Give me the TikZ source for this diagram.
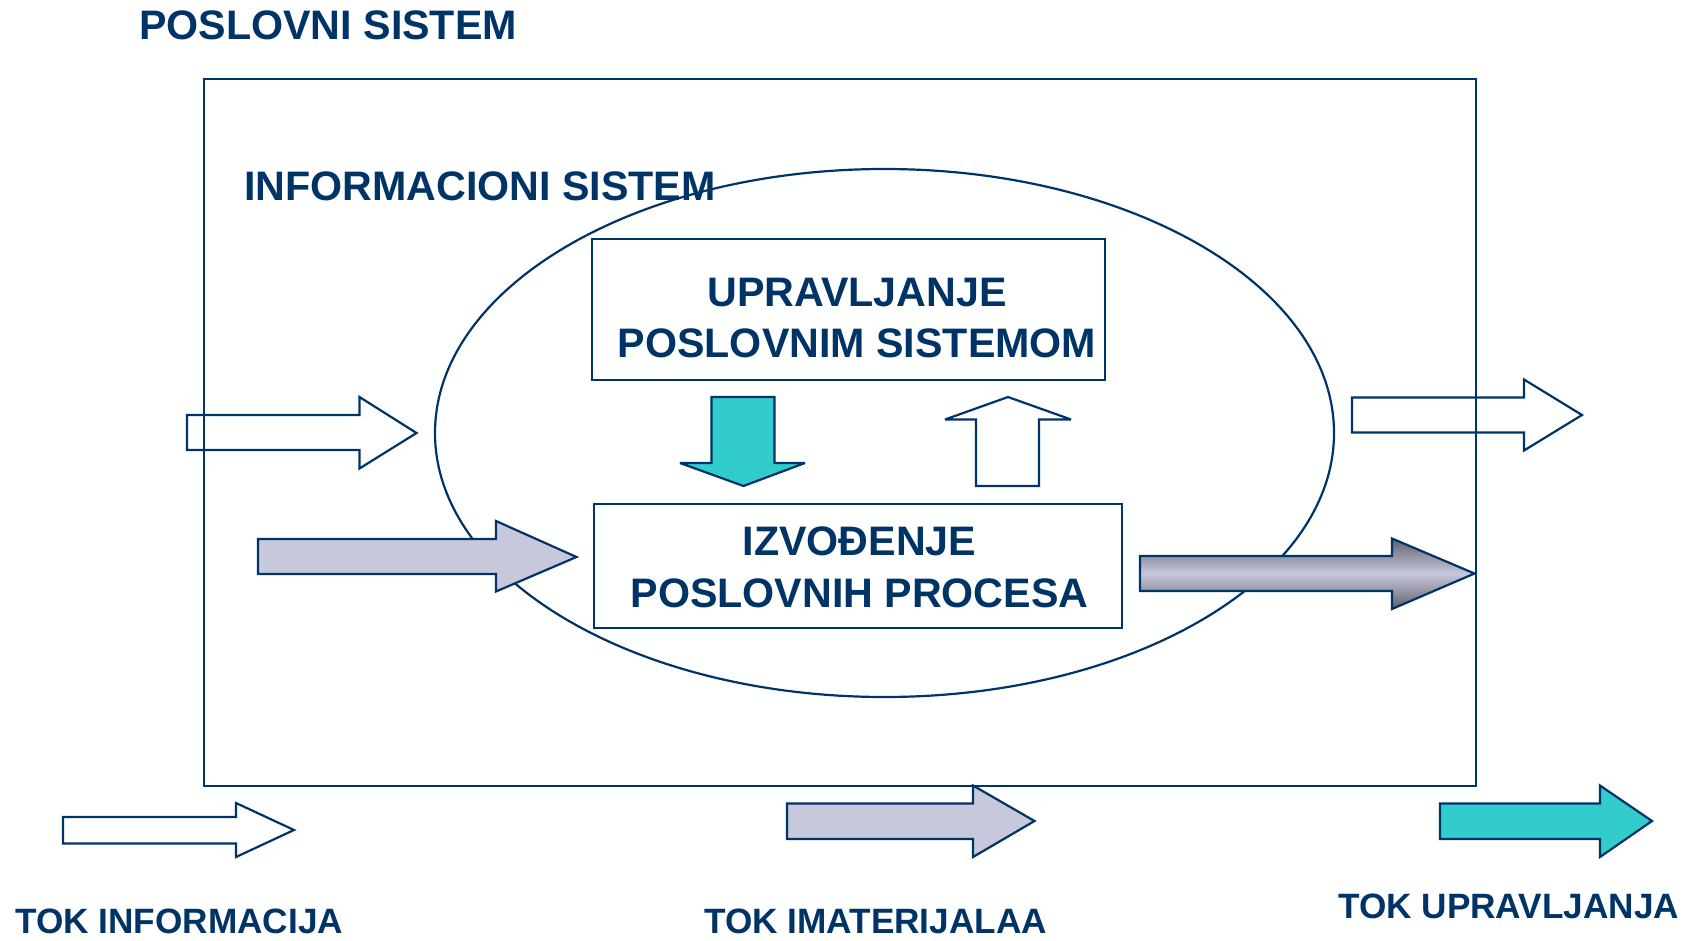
\documentclass[tikz,border=0pt]{standalone}
\usepackage{fontspec}
\setmainfont{Liberation Sans}
\usetikzlibrary{shapes.geometric}
\definecolor{navy}{RGB}{0,51,102}
\definecolor{teal}{RGB}{51,204,204}
\definecolor{lavender}{RGB}{200,200,220}
\definecolor{steel}{RGB}{96,96,108}
\begin{document}
\begin{tikzpicture}[x=1pt,y=-1pt,
  outline/.style={draw=navy,line width=2.2pt,line join=miter,miter limit=4},
  bigtext/.style={inner sep=0pt,text=navy,font=\fontsize{41.2}{51}\selectfont\bfseries},
  smalltext/.style={inner sep=0pt,text=navy,font=\fontsize{35.2}{42}\selectfont\bfseries},
  boxnode/.style={outline,inner sep=0pt,fill=white},
  infoarrow/.style={outline},
  matarrow/.style={outline,fill=lavender},
  ctrlarrow/.style={outline,fill=teal},
  gradarrow/.style={outline,top color=steel,bottom color=steel,middle color=lavender}]
\useasboundingbox (0,0) rectangle (1695,940);

% business system frame and the information system ellipse
\node[outline,inner sep=0pt,minimum width=1272pt,minimum height=707pt] (frame) at (840,432.5) {};
\node[outline,ellipse,inner sep=0pt,minimum width=899pt,minimum height=528pt] (is) at (884.5,433) {};

% titles
\node[bigtext,anchor=base west] (tposl) at (139,39) {POSLOVNI SISTEM};
\node[bigtext,anchor=base west] (tinfo) at (244,200.5) {INFORMACIONI SISTEM};

% management and process boxes
\node[boxnode,minimum width=513pt,minimum height=141pt] (upr) at (848.5,309.5) {};
\node[bigtext,anchor=base] (upr1) at (857,306.5) {UPRAVLJANJE};
\node[bigtext,anchor=base] (upr2) at (857,357.5) {POSLOVNIM SISTEMOM};

\node[boxnode,minimum width=528pt,minimum height=124pt] (izv) at (858,566) {};
\node[bigtext,anchor=base] (izv1) at (859.5,555) {IZVOĐENJE};
\node[bigtext,anchor=base] (izv2) at (859.5,607) {POSLOVNIH PROCESA};

% control flow down, information flow up
\draw[ctrlarrow] (711.5,397) -- (774.5,397) -- (774.5,463) -- (805,463) -- (743.5,486)
  -- (680,463) -- (711.5,463) -- cycle;
\draw[infoarrow] (976,486) -- (1039,486) -- (1039,419.5) -- (1071,419.5) -- (1008,397)
  -- (945,419.5) -- (976,419.5) -- cycle;

% information in / out
\draw[infoarrow] (187,415) -- (359.5,415) -- (359.5,397) -- (416.5,433) -- (359.5,468.5)
  -- (359.5,450) -- (187,450) -- cycle;
\draw[infoarrow] (1352,397.5) -- (1524,397.5) -- (1524,379.5) -- (1582,415) -- (1524,450.5)
  -- (1524,432.5) -- (1352,432.5) -- cycle;

% material in / out
\draw[matarrow] (258,539) -- (496,539) -- (496,521) -- (576.5,557) -- (496,591.5)
  -- (496,574) -- (258,574) -- cycle;
\draw[gradarrow] (1140,556) -- (1392,556) -- (1392,538.5) -- (1474.5,573.5) -- (1392,609)
  -- (1392,591) -- (1140,591) -- cycle;

% legend
\draw[infoarrow] (63,817) -- (236,817) -- (236,803) -- (294,830) -- (236,857)
  -- (236,843.5) -- (63,843.5) -- cycle;
\draw[matarrow] (787,803.5) -- (973,803.5) -- (973,785.5) -- (1034.5,821) -- (973,857)
  -- (973,839) -- (787,839) -- cycle;
\draw[ctrlarrow] (1440,803.5) -- (1600,803.5) -- (1600,785.5) -- (1652,821) -- (1600,857)
  -- (1600,839) -- (1440,839) -- cycle;

\node[smalltext,anchor=base west] (linfo) at (15,933) {TOK INFORMACIJA};
\node[smalltext,anchor=base west] (lmat) at (704,933) {TOK IMATERIJALAA};
\node[smalltext,anchor=base west] (lctrl) at (1338,918) {TOK UPRAVLJANJA};
\end{tikzpicture}
\end{document}
